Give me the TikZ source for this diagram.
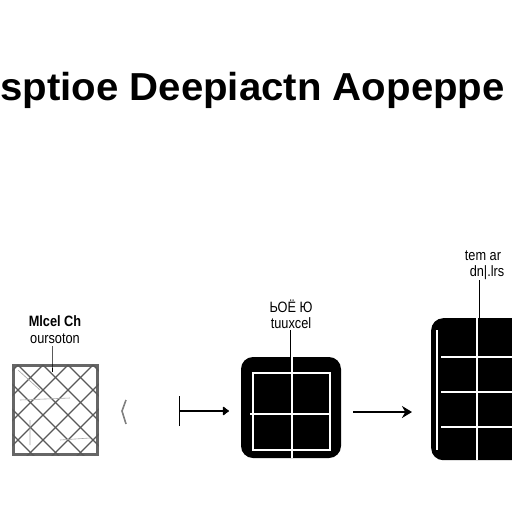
\documentclass[tikz,border=0pt]{standalone}
\usepackage{fontspec}
\setmainfont{Liberation Sans}
\usetikzlibrary{arrows.meta}
\begin{document}
\begin{tikzpicture}[x=1pt,y=-1pt,
  lbl/.style={font=\fontsize{15}{16}\selectfont, inner sep=0pt, xscale=0.85},
  darkbox/.style={draw=none, fill=black, rounded corners=12pt, inner sep=0pt},
  wline/.style={draw=white, line width=1.3pt},
  conn/.style={line width=1.8pt},
  lattice/.style={draw=black!65, line width=1.2pt}]
\useasboundingbox (0,0) rectangle (512,512);
\fill[white] (0,0) rectangle (512,512);
% title
\node[font=\fontsize{39}{40}\selectfont\bfseries, anchor=base east, inner sep=0pt, xscale=1.03] (title) at (505,100) {sptioe Deepiactn Aopeppe};

% left box
\node[draw=black!60, line width=2.5pt, minimum width=84pt, minimum height=89pt, inner sep=0pt] (lbox) at (55.5,410) {};
\begin{scope}
\clip (lbox.south west) rectangle (lbox.north east);
\foreach \k in {-120,-95,...,130} {
  \draw[lattice] (13+\k,365) -- (13+\k+100,465);
  \draw[lattice] (98-\k,365) -- (98-\k-100,465);
}
\draw[black!35, line width=0.6pt] (20,400) -- (70,398) (18,370) -- (40,390) (60,440) -- (90,438) (30,420) -- (30,445);
\end{scope}
\node[lbl, font=\fontsize{15}{16}\selectfont\bfseries] (llab1) at (55,321) {Mlcel Ch};
\node[lbl] (llab2) at (55,339) {oursoton};
\draw[line width=1pt] (52,346) -- (lbox.north -| 52,346) -- ++(0,8);

% chevron
\draw[black!50, line width=1.6pt] (126,400) -- (122,411) -- (126,424);
\coordinate (chev) at (124,411);

% middle box
\node[darkbox, minimum width=100pt, minimum height=101pt] (mid) at (291,407.5) {};
\node[draw=white, line width=1.3pt, minimum width=77pt, minimum height=77pt, inner sep=0pt] (midin) at (291.5,411.5) {};
\draw[wline] (250,414) -- (midin.east |- 0,414);
\draw[wline] (292,357) -- (292,458);
\node[lbl] (mlab1) at (291,306) {ЬОЁ Ю};
\node[lbl] (mlab2) at (291,323) {tuuxcel};
\draw[line width=1pt] (290,330) -- (mid.north -| 290,0);

% arrow 1
\coordinate (a1s) at (179,411);
\coordinate (a1e) at (229,411);
\draw[conn, {Bar[width=30pt,line width=1.4pt]}-{Latex[length=7pt,width=11pt,round]}] (a1s) -- (a1e);

% arrow 2
\coordinate (a2s) at (353,412);
\coordinate (a2e) at (412,412);
\draw[conn, -{Stealth[length=10pt,width=12pt]}] (a2s) -- (a2e);

% right box
\node[darkbox, minimum width=110pt, minimum height=142pt, anchor=north west] (rbox) at (431,318) {};
\draw[wline] (437,330) -- (437,450);
\foreach \yy in {357,392,427} \draw[wline] (441,\yy) -- (512,\yy);
\draw[wline] (477,318) -- (477,460);
\node[lbl] (rlab1) at (483,256) {tem ar};
\node[lbl] (rlab2) at (487,273) {dn|.lrs};
\draw[line width=1pt] (479,280) -- (rbox.north -| 479,0);
\end{tikzpicture}
\end{document}
